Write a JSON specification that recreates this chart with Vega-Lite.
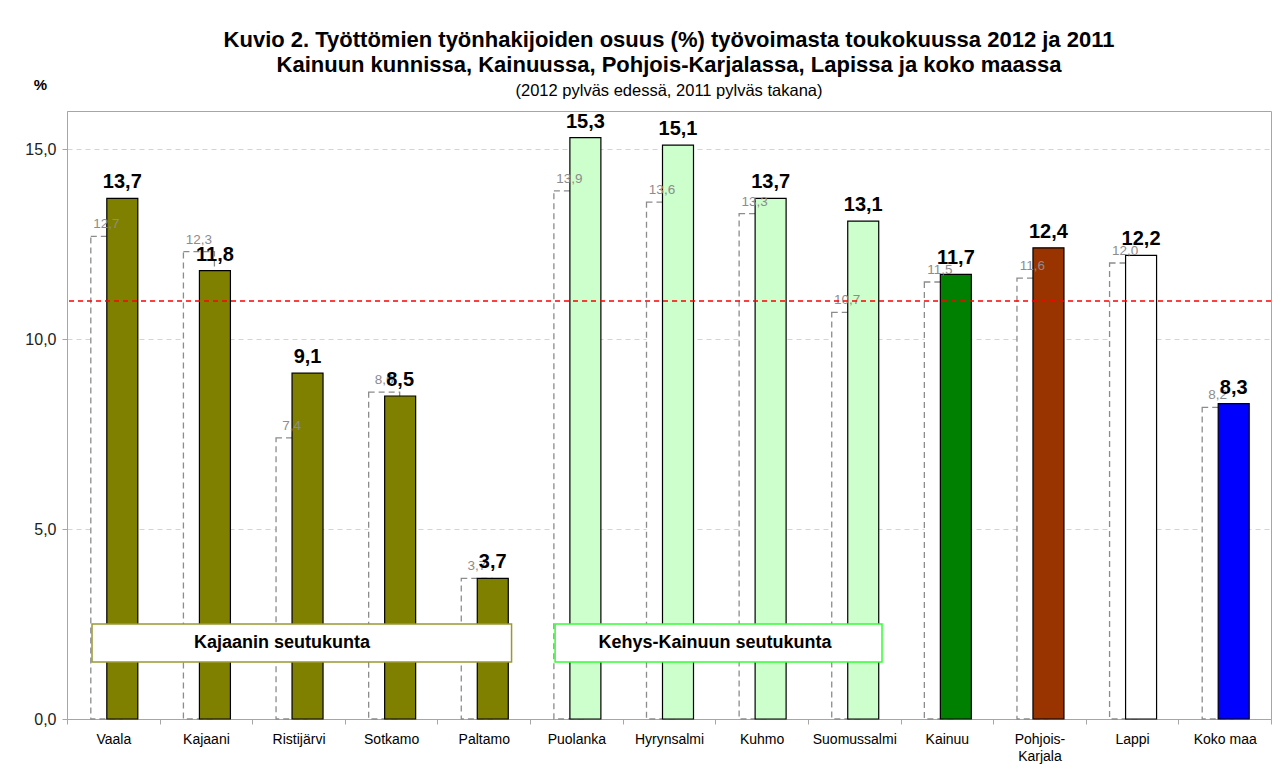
{
  "$schema": "https://vega.github.io/schema/vega-lite/v6.json",
  "width": 1204,
  "height": 608,
  "autosize": {"type": "none"},
  "padding": {"left": 67, "top": 111, "right": 17, "bottom": 63},
  "background": "white",
  "config": {
    "locale": {"number": {"decimal": ",", "thousands": " ", "grouping": [3], "currency": ["", " €"]}},
    "view": {"stroke": "#a6a6a6", "strokeWidth": 1},
    "font": "Liberation Sans"
  },
  "title": {
    "text": ["Kuvio 2. Työttömien työnhakijoiden osuus (%) työvoimasta toukokuussa 2012 ja 2011", "Kainuun kunnissa, Kainuussa, Pohjois-Karjalassa, Lapissa ja koko maassa"],
    "subtitle": "(2012 pylväs edessä, 2011 pylväs takana)",
    "fontSize": 22,
    "fontWeight": "bold",
    "lineHeight": 25,
    "subtitleFontSize": 16.5,
    "subtitleFontWeight": "normal",
    "subtitlePadding": 6,
    "anchor": "middle",
    "offset": 13,
    "dy": 36,
    "color": "black",
    "subtitleColor": "black",
    "font": "Liberation Sans",
    "subtitleFont": "Liberation Sans"
  },
  "datasets": {
    "alueet": [
      {"alue": "Vaala", "v2012": 13.7, "v2011": 12.7, "ryhma": "Kajaanin seutukunta"},
      {"alue": "Kajaani", "v2012": 11.8, "v2011": 12.3, "ryhma": "Kajaanin seutukunta"},
      {"alue": "Ristijärvi", "v2012": 9.1, "v2011": 7.4, "ryhma": "Kajaanin seutukunta"},
      {"alue": "Sotkamo", "v2012": 8.5, "v2011": 8.6, "ryhma": "Kajaanin seutukunta"},
      {"alue": "Paltamo", "v2012": 3.7, "v2011": 3.7, "ryhma": "Kajaanin seutukunta"},
      {"alue": "Puolanka", "v2012": 15.3, "v2011": 13.9, "ryhma": "Kehys-Kainuun seutukunta"},
      {"alue": "Hyrynsalmi", "v2012": 15.1, "v2011": 13.6, "ryhma": "Kehys-Kainuun seutukunta"},
      {"alue": "Kuhmo", "v2012": 13.7, "v2011": 13.3, "ryhma": "Kehys-Kainuun seutukunta"},
      {"alue": "Suomussalmi", "v2012": 13.1, "v2011": 10.7, "ryhma": "Kehys-Kainuun seutukunta"},
      {"alue": "Kainuu", "v2012": 11.7, "v2011": 11.5, "ryhma": "Kainuu"},
      {"alue": "Pohjois-Karjala", "v2012": 12.4, "v2011": 11.6, "ryhma": "Pohjois-Karjala"},
      {"alue": "Lappi", "v2012": 12.2, "v2011": 12.0, "ryhma": "Lappi"},
      {"alue": "Koko maa", "v2012": 8.3, "v2011": 8.2, "ryhma": "Koko maa"}
    ],
    "laatikot": [
      {"nimi": "Kajaanin seutukunta", "alku": "Vaala", "loppu": "Paltamo", "ala": 1.5, "yla": 2.5, "keski": 2.0},
      {"nimi": "Kehys-Kainuun seutukunta", "alku": "Puolanka", "loppu": "Suomussalmi", "ala": 1.5, "yla": 2.5, "keski": 2.0}
    ],
    "keskiarvo": [{"arvo": 11.0}]
  },
  "layer": [
    {
      "data": {"name": "alueet"},
      "mark": {"type": "bar", "width": 31, "xOffset": -7, "fill": "white", "stroke": "#8c8c8c", "strokeWidth": 1.3, "strokeDash": [6, 4]},
      "encoding": {
        "x": {
          "field": "alue", "type": "nominal", "sort": null, "title": null,
          "scale": {"domain": ["Vaala", "Kajaani", "Ristijärvi", "Sotkamo", "Paltamo", "Puolanka", "Hyrynsalmi", "Kuhmo", "Suomussalmi", "Kainuu", "Pohjois-Karjala", "Lappi", "Koko maa"], "paddingInner": 0, "paddingOuter": 0},
          "axis": {
            "labelAngle": 0, "labelFontSize": 14, "labelColor": "black", "labelPadding": 8, "labelBaseline": "top",
            "labelExpr": "datum.label == 'Pohjois-Karjala' ? ['Pohjois-', 'Karjala'] : datum.label",
            "labelLineHeight": 17,
            "tickBand": "extent", "tickSize": 5, "tickColor": "#a6a6a6", "domainColor": "#a6a6a6", "labelLimit": 0, "grid": false
          }
        },
        "y": {
          "field": "v2011", "type": "quantitative", "title": "%",
          "scale": {"domain": [0, 16], "nice": false},
          "axis": {
            "values": [0, 5, 10, 15], "format": ".1f", "labelFontSize": 16, "labelColor": "#222", "labelPadding": 6,
            "tickSize": 5, "tickColor": "#a6a6a6", "domainColor": "#a6a6a6",
            "grid": true, "gridDash": [5, 4], "gridColor": "#d4d4d4",
            "titleAngle": 0, "titleX": -27, "titleY": -22, "titleAlign": "center", "titleBaseline": "alphabetic",
            "titleFontSize": 15, "titleFontWeight": "bold", "titleColor": "black"
          }
        }
      }
    },
    {
      "data": {"name": "alueet"},
      "mark": {"type": "bar", "width": 31, "xOffset": 9, "stroke": "black", "strokeWidth": 1.2},
      "encoding": {
        "x": {"field": "alue", "type": "nominal", "title": null},
        "y": {"field": "v2012", "type": "quantitative", "title": "%"},
        "color": {
          "field": "ryhma", "type": "nominal", "legend": null,
          "scale": {
            "domain": ["Kajaanin seutukunta", "Kehys-Kainuun seutukunta", "Kainuu", "Pohjois-Karjala", "Lappi", "Koko maa"],
            "range": ["#808000", "#CCFFCC", "#008000", "#993300", "#FFFFFF", "#0000FF"]
          }
        }
      }
    },
    {
      "data": {"name": "alueet"},
      "mark": {"type": "text", "xOffset": -7, "dy": -8, "baseline": "alphabetic", "fontSize": 13.5, "color": "#8c8c8c"},
      "encoding": {
        "x": {"field": "alue", "type": "nominal", "title": null},
        "y": {"field": "v2011", "type": "quantitative", "title": "%"},
        "text": {"field": "v2011", "type": "quantitative", "format": ".1f"}
      }
    },
    {
      "data": {"name": "alueet"},
      "mark": {"type": "text", "xOffset": 9, "dy": -10, "baseline": "alphabetic", "fontSize": 20, "fontWeight": "bold", "color": "black"},
      "encoding": {
        "x": {"field": "alue", "type": "nominal", "title": null},
        "y": {"field": "v2012", "type": "quantitative", "title": "%"},
        "text": {"field": "v2012", "type": "quantitative", "format": ".1f"}
      }
    },
    {
      "data": {"name": "keskiarvo"},
      "mark": {"type": "rule", "color": "#ff0000", "strokeWidth": 1.5, "strokeDash": [5, 4]},
      "encoding": {
        "y": {"field": "arvo", "type": "quantitative", "title": "%"}
      }
    },
    {
      "data": {"name": "laatikot"},
      "mark": {"type": "rect", "fill": "white", "strokeWidth": 1.5},
      "encoding": {
        "x": {"field": "alku", "type": "nominal", "bandPosition": 0.27, "title": null},
        "x2": {"field": "loppu", "bandPosition": 0.8},
        "y": {"field": "ala", "type": "quantitative", "title": "%"},
        "y2": {"field": "yla"},
        "stroke": {
          "field": "nimi", "type": "nominal", "legend": null,
          "scale": {"domain": ["Kajaanin seutukunta", "Kehys-Kainuun seutukunta"], "range": ["#999933", "#33FF33"]}
        }
      }
    },
    {
      "data": {"name": "laatikot"},
      "transform": [{"filter": "datum.nimi == 'Kajaanin seutukunta'"}],
      "mark": {"type": "text", "fontSize": 18, "fontWeight": "bold", "color": "black", "align": "center", "baseline": "middle", "xOffset": 215},
      "encoding": {
        "x": {"field": "alku", "type": "nominal", "bandPosition": 0, "title": null},
        "y": {"field": "keski", "type": "quantitative", "title": "%"},
        "text": {"field": "nimi"}
      }
    },
    {
      "data": {"name": "laatikot"},
      "transform": [{"filter": "datum.nimi == 'Kehys-Kainuun seutukunta'"}],
      "mark": {"type": "text", "fontSize": 18, "fontWeight": "bold", "color": "black", "align": "center", "baseline": "middle", "xOffset": 185},
      "encoding": {
        "x": {"field": "alku", "type": "nominal", "bandPosition": 0, "title": null},
        "y": {"field": "keski", "type": "quantitative", "title": "%"},
        "text": {"field": "nimi"}
      }
    }
  ]
}
